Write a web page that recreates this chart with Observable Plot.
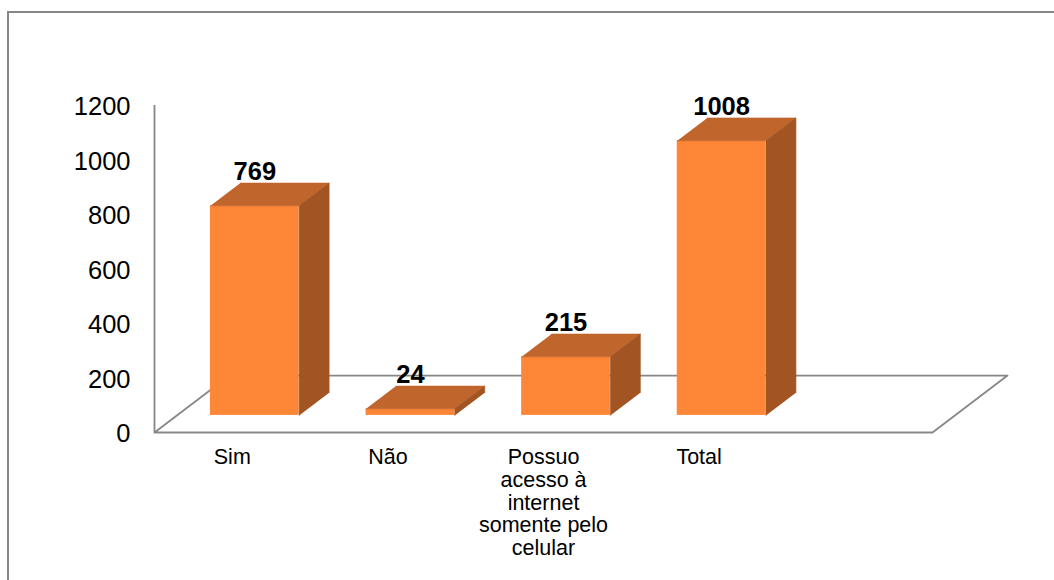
<!DOCTYPE html>
<html><head><meta charset="utf-8">
<script src="https://cdn.jsdelivr.net/npm/d3@7"></script>
<script src="https://cdn.jsdelivr.net/npm/@observablehq/plot@0.6"></script>
<style>
html,body{margin:0;padding:0;background:#fff;overflow:hidden;width:1054px;height:580px}
#chart{position:absolute;left:0;top:0}
#frame{position:absolute;left:7px;top:11px;width:1200px;height:800px;border:2px solid #878787;pointer-events:none}
</style></head><body>
<div id="chart"></div><div id="frame"></div>
<script>
// ---- data ----
const categories = ["Sim", "Não", "Possuo\nacesso à\ninternet\nsomente pelo\ncelular", "Total"];
const values = [769, 24, 215, 1008];
const yTicks = [0, 200, 400, 600, 800, 1000, 1200];
const slots = 5; // the floor has room for 5 categories, the last one is empty

// ---- pseudo-3D projection (depth expressed in data units) ----
const DX = 0.482, DY = 209;        // full floor depth
const barW = 0.57, z0 = 0.3, z1 = 0.7;
const P = (x, y, z) => ({x: x + z * DX, y: y + z * DY});

const bars = values.map((v, i) => ({i, v, c: i + 0.5, xl: i + 0.5 - barW / 2, xr: i + 0.5 + barW / 2}));
const fronts = bars.map(b => ({x1: b.xl + z0 * DX, x2: b.xr + z0 * DX, y1: z0 * DY, y2: b.v + z0 * DY}));
const tops = bars.flatMap(b => [P(b.xl, b.v, z0), P(b.xr, b.v, z0), P(b.xr, b.v, z1), P(b.xl, b.v, z1)].map(p => ({...p, id: b.i})));
const sides = bars.flatMap(b => [P(b.xr, 0, z0), P(b.xr, b.v, z0), P(b.xr, b.v, z1), P(b.xr, 0, z1)].map(p => ({...p, id: b.i})));
const floor = [P(0, 0, 0), P(0, 0, 1), P(slots, 0, 1), P(slots, 0, 0), P(0, 0, 0)];

const gray = "#878787";
const font = "'Liberation Sans', Arial, Helvetica, sans-serif";

const chart = Plot.plot({
  width: 1054, height: 580,
  marginLeft: 154, marginRight: 122, marginTop: 105, marginBottom: 148,
  x: {domain: [0, slots], axis: null},
  y: {domain: [0, 1200], axis: null},
  style: {background: "transparent", fontFamily: font, color: "black", overflow: "visible"},
  marks: [
    Plot.line(floor, {x: "x", y: "y", stroke: gray, strokeWidth: 1.8}),
    Plot.ruleX([0], {y1: 0, y2: 1200, stroke: gray, strokeWidth: 1.8}),
    Plot.axisY(yTicks, {tickSize: 0, tickPadding: 24, fontSize: 25.5, dy: 1.5, label: null, fill: "black",
      tickFormat: d => String(d)}),
    Plot.rect(fronts, {x1: "x1", x2: "x2", y1: "y1", y2: "y2", fill: "#FE8637"}),
    Plot.line(tops, {x: "x", y: "y", z: "id", fill: "#C0652B", stroke: "#C0652B", strokeWidth: 0.6}),
    Plot.line(sides, {x: "x", y: "y", z: "id", fill: "#A25522", stroke: "#A25522", strokeWidth: 0.6}),
    Plot.text(bars, {x: b => b.c + z0 * DX, y: b => b.v + z1 * DY, text: b => String(b.v),
      lineAnchor: "bottom", dy: -3, fontSize: 25.5, fontWeight: "bold", fill: "black"}),
    Plot.text(categories, {x: (d, i) => i + 0.5, y: () => 0, text: d => d,
      lineAnchor: "top", dy: 15.7, fontSize: 21.5, lineHeight: 1.056, fill: "black"})
  ]
});
document.getElementById("chart").appendChild(chart);
</script>
</body></html>
